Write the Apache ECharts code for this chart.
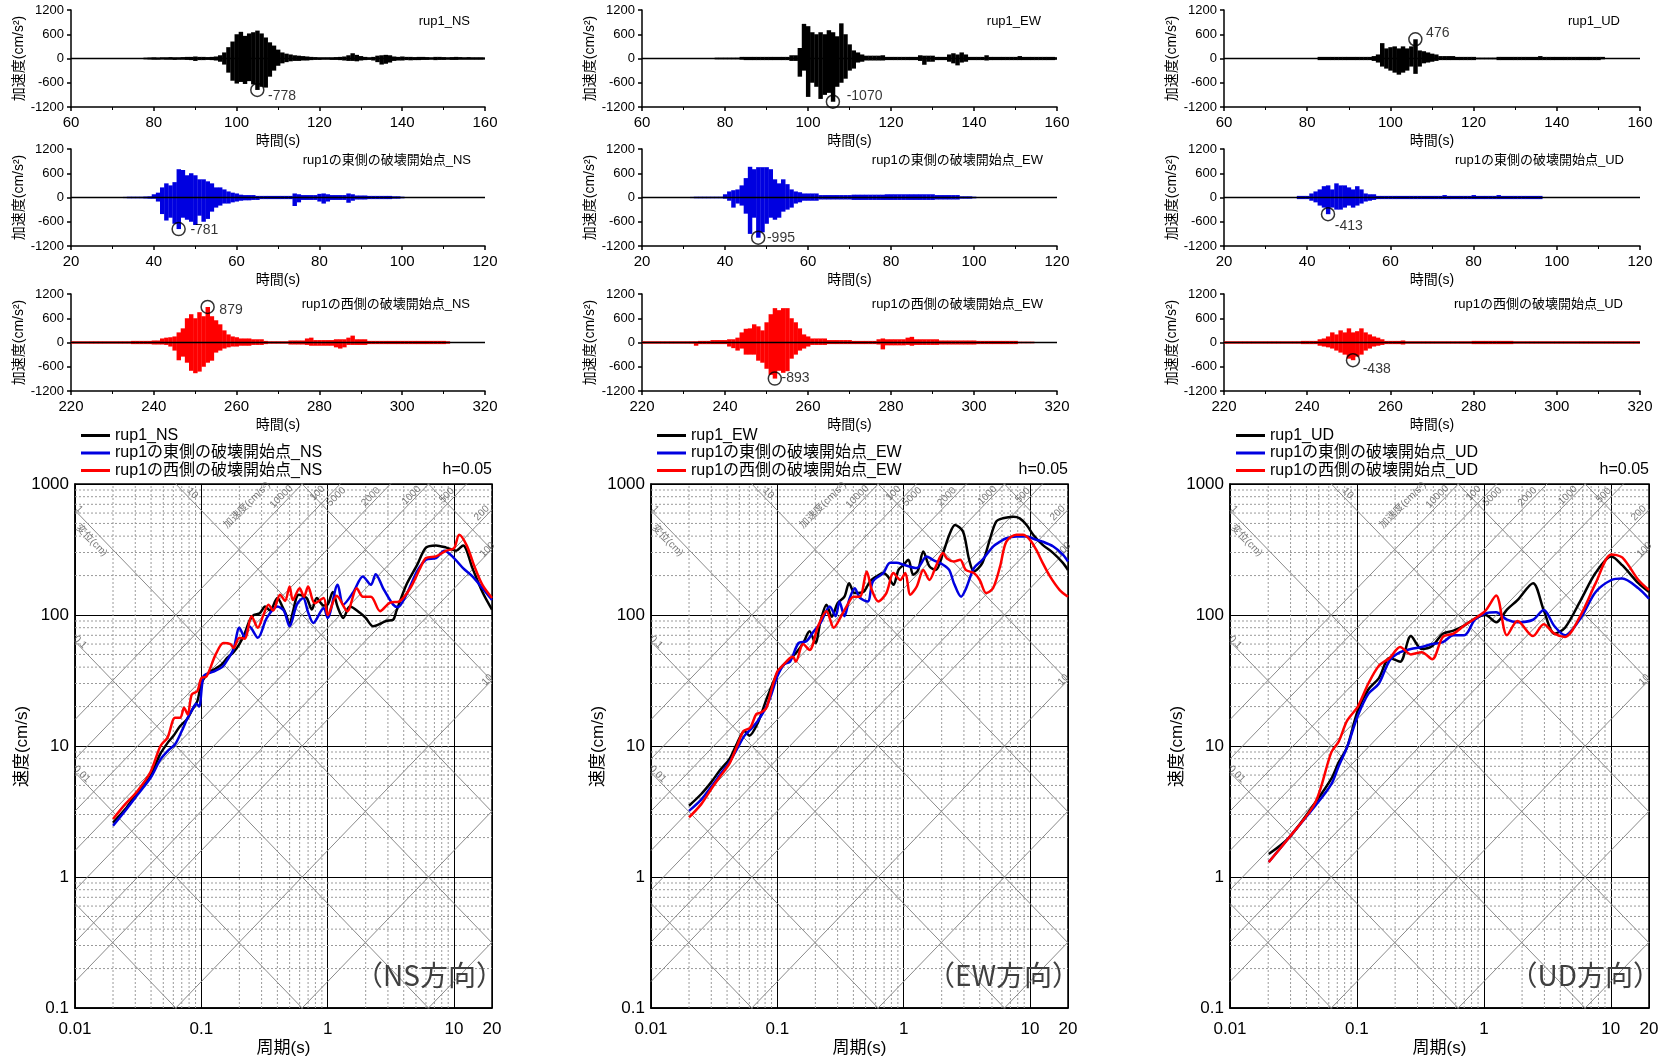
<!DOCTYPE html>
<html><head><meta charset="utf-8">
<script src="https://cdn.jsdelivr.net/npm/echarts@6.0.0/dist/echarts.min.js"></script>
<style>html,body{margin:0;padding:0;background:#fff}#c{width:1663px;height:1058px}</style>
</head><body><div id="c"></div><script>
// ---------------- DATA: acceleration waveforms (envelope per second) ----------------
const timeRanges = [[60,160],[20,120],[220,320]];
const accelMin = -1200, accelMax = 1200, accelStep = 600, timeStep = 20;

const nsRup1Name = 'rup1_NS';
const nsRup1Start = 78;
const nsRup1Up = [20,25,30,25,30,30,35,30,30,35, 40,40,50,40,40,35,40,50,80,150, 280,420,600,660,560,620,650,690,620,520, 400,320,220,150,120,100,80,70,60,50, 40,35,30,30,30,30,35,40,50,80, 130,90,60,40,30,40,70,80,90,80, 50,40,50,40,40,35,40,40,35,30, 40,40,35,30,35,40,35,30,35,30, 30,30,25];
const nsRup1Lo = [-20,-25,-30,-30,-25,-30,-30,-35,-30,-30, -35,-40,-60,-40,-40,-35,-40,-50,-80,-150, -350,-550,-620,-580,-630,-560,-640,-778,-700,-720, -450,-300,-180,-120,-90,-70,-60,-60,-50,-50, -40,-35,-35,-30,-30,-35,-35,-40,-50,-60, -60,-70,-50,-40,-35,-50,-90,-150,-130,-100, -60,-50,-50,-40,-45,-40,-40,-35,-35,-30, -40,-35,-35,-30,-35,-35,-30,-30,-30,-30, -30,-30,-25];

const nsEastName = 'rup1の東側の破壊開始点_NS';
const nsEastStart = 33;
const nsEastUp = [15,20,20,20,20,25,30,80,120,250, 350,300,380,700,680,550,600,550,450,450, 400,350,250,250,200,150,120,100,70,60, 60,60,40,40,40,40,40,40,40,40, 40,100,80,60,60,60,60,90,100,80, 60,60,60,60,100,80,50,50,50,40, 40,40,40,40,40,30,30,20];
const nsEastLo = [-15,-20,-20,-20,-20,-25,-30,-30,-100,-410, -570,-500,-650,-781,-500,-550,-600,-680,-450,-600, -530,-350,-250,-200,-150,-150,-120,-100,-80,-70, -70,-60,-60,-40,-40,-40,-40,-40,-40,-40, -40,-210,-120,-60,-60,-60,-60,-100,-150,-100, -60,-60,-60,-60,-130,-80,-50,-50,-50,-40, -40,-40,-40,-40,-40,-30,-30,-20];

const nsWestName = 'rup1の西側の破壊開始点_NS';
const nsWestStart = 220;
const nsWestUp = [30,30,30,30,30,30,30,30,30,30, 30,30,30,30,30,40,40,40,40,40, 50,50,100,120,130,150,250,350,600,700, 600,750,650,879,650,550,450,300,200,150, 130,100,100,100,80,80,80,40,30,30, 30,30,30,50,50,50,50,100,120,60, 60,60,60,60,80,80,80,120,170,80, 80,80,40,40,40,40,40,40,40,40, 40,40,40,40,40,40,40,40,40,40, 40,30];
const nsWestLo = [-30,-30,-30,-30,-30,-30,-30,-30,-30,-30, -30,-30,-30,-30,-30,-40,-40,-40,-40,-40, -50,-50,-50,-60,-100,-200,-440,-350,-500,-700, -760,-720,-600,-500,-450,-250,-200,-150,-120,-100, -100,-80,-80,-80,-60,-60,-60,-40,-30,-30, -30,-30,-30,-50,-50,-50,-50,-60,-80,-80, -80,-80,-80,-80,-120,-150,-120,-60,-60,-60, -60,-60,-40,-40,-40,-40,-40,-40,-40,-40, -40,-40,-40,-40,-40,-40,-40,-40,-40,-40, -40,-30];

const ewRup1Name = 'rup1_EW';
const ewRup1Start = 78;
const ewRup1Up = [20,20,20,20,20,20,40,40,40,40, 40,40,40,40,40,40,40,40,80,80, 260,857,800,650,600,650,600,700,650,550, 870,600,350,200,150,100,70,70,70,70, 80,40,40,40,40,40,40,40,40,80, 70,70,70,40,40,40,100,130,100,150, 100,40,40,40,40,80,40,40,40,40, 40,40,40,60,40,40,40,40,40,40, 40,40,30];
const ewRup1Lo = [-20,-20,-20,-20,-20,-20,-30,-40,-40,-40, -40,-40,-40,-40,-40,-40,-40,-40,-60,-60, -450,-300,-950,-600,-700,-1000,-900,-850,-1070,-700, -600,-500,-300,-250,-100,-80,-50,-50,-50,-50, -50,-40,-40,-40,-40,-40,-40,-40,-40,-60, -155,-80,-80,-40,-40,-40,-80,-120,-170,-100, -80,-40,-40,-40,-40,-50,-40,-40,-40,-40, -40,-40,-40,-40,-40,-40,-40,-40,-40,-40, -40,-40,-30];

const ewEastName = 'rup1の東側の破壊開始点_EW';
const ewEastStart = 32;
const ewEastUp = [15,20,20,20,20,20,20,20,80,150, 180,200,300,480,760,700,750,750,750,700, 450,350,450,330,200,150,130,100,100,100, 100,60,60,60,60,60,60,60,60,70, 70,70,70,70,70,70,70,80,80,80, 80,80,80,80,80,80,80,80,80,60, 60,60,60,60,60,30,30,30,20];
const ewEastLo = [-15,-20,-20,-20,-20,-20,-20,-20,-30,-80, -250,-150,-200,-400,-900,-500,-995,-860,-650,-500, -550,-500,-350,-300,-250,-150,-120,-80,-80,-80, -80,-50,-50,-50,-50,-50,-50,-50,-50,-60, -60,-60,-60,-60,-60,-60,-60,-60,-60,-60, -60,-60,-60,-60,-60,-60,-60,-60,-60,-50, -50,-50,-50,-50,-50,-30,-30,-30,-20];

const ewWestName = 'rup1の西側の破壊開始点_EW';
const ewWestStart = 220;
const ewWestUp = [30,30,30,30,30,30,30,30,30,30, 30,30,30,30,40,40,40,60,60,60, 60,80,80,120,250,340,350,450,400,300, 500,700,850,800,850,850,600,500,350,200, 150,100,100,100,100,60,60,60,60,60, 60,40,40,40,40,40,40,80,100,80, 80,80,80,80,120,140,80,80,80,80, 80,80,50,50,50,50,50,50,50,50, 50,40,40,40,40,40,40,40,40,40, 40,20,20,20,20];
const ewWestLo = [-30,-30,-30,-30,-30,-30,-30,-30,-30,-30, -30,-30,-30,-80,-40,-40,-40,-40,-40,-40, -40,-100,-140,-200,-150,-300,-300,-300,-450,-500, -650,-800,-893,-700,-750,-710,-400,-300,-200,-150, -100,-60,-60,-60,-60,-40,-40,-40,-40,-40, -40,-40,-40,-40,-40,-40,-40,-50,-170,-70, -70,-70,-70,-70,-60,-80,-60,-60,-60,-60, -60,-60,-50,-50,-50,-50,-50,-50,-50,-50, -50,-40,-40,-40,-40,-40,-40,-40,-40,-40, -40,-20,-20,-20,-20];

const udRup1Name = 'rup1_UD';
const udRup1Start = 83;
const udRup1Up = [40,40,40,40,40,40,40,40,40,40, 40,40,40,60,100,380,250,280,300,250, 300,250,300,476,200,180,150,120,100,60, 60,60,60,40,40,40,40,40,20,20, 20,20,20,40,40,40,40,40,40,40, 40,40,40,60,40,40,40,40,40,40, 40,40,40,40,40,40,40,40,40];
const udRup1Lo = [-40,-40,-40,-40,-40,-40,-40,-40,-40,-40, -40,-40,-40,-60,-100,-200,-250,-300,-350,-400, -350,-300,-200,-380,-200,-120,-100,-80,-60,-40, -40,-40,-40,-40,-40,-40,-40,-40,-20,-20, -20,-20,-20,-40,-40,-40,-40,-40,-40,-40, -40,-40,-40,-40,-40,-40,-40,-40,-40,-40, -40,-40,-40,-40,-40,-40,-40,-40,-20];

const udEastName = 'rup1の東側の破壊開始点_UD';
const udEastStart = 38;
const udEastUp = [40,40,40,100,150,200,280,300,200,350, 300,300,250,200,280,200,100,80,80,40, 40,40,40,40,40,40,40,40,40,40, 40,40,40,40,40,60,40,40,40,40, 40,40,60,40,40,40,40,40,60,40, 40,40,40,40,40,40,40,40,40];
const udEastLo = [-40,-40,-40,-80,-120,-200,-250,-413,-250,-300, -300,-250,-200,-250,-200,-150,-100,-80,-60,-40, -40,-40,-40,-40,-40,-40,-40,-40,-40,-40, -40,-40,-40,-40,-40,-40,-40,-40,-40,-40, -40,-40,-40,-40,-40,-40,-40,-40,-40,-40, -40,-40,-40,-40,-40,-40,-40,-40,-40];

const udWestName = 'rup1の西側の破壊開始点_UD';
const udWestStart = 220;
const udWestUp = [30,30,30,30,30,30,30,30,30,30, 30,30,30,30,30,30,30,30,30,40, 40,40,40,80,100,150,250,200,300,250, 350,250,280,350,250,200,150,120,80,40, 40,40,40,50,30,30,30,30,30,30, 30,30,30,30,30,30,30,30,30,30, 40,40,40,40,40,40,40,40,40,40, 30,30,30,30,30,30,30,30,30,30, 30,30,30,30,30,30,30,30,30,30, 30,30,30,30,30,30,30,30,30,30, 30];
const udWestLo = [-30,-30,-30,-30,-30,-30,-30,-30,-30,-30, -30,-30,-30,-30,-30,-30,-30,-30,-30,-40, -40,-40,-40,-80,-100,-120,-150,-200,-250,-300, -400,-438,-350,-300,-200,-150,-100,-80,-60,-40, -40,-40,-40,-50,-30,-30,-30,-30,-30,-30, -30,-30,-30,-30,-30,-30,-30,-30,-30,-30, -40,-40,-40,-40,-40,-40,-40,-40,-40,-40, -30,-30,-30,-30,-30,-30,-30,-30,-30,-30, -30,-30,-30,-30,-30,-30,-30,-30,-30,-30, -30,-30,-30,-30,-30,-30,-30,-30,-30,-30, -30];

// peak annotations (time, value): NS rup1/east/west, EW..., UD...
const peakTimes = [105, 46, 253, 106, 48, 252, 106, 45, 251];
const peakValues = [-778, -781, 879, -1070, -995, -893, 476, -413, -438];

// ---------------- DATA: pseudo-velocity response spectra [period(s), velocity(cm/s)] ----------------
const specNsRup1 = [[0.02,2.6],[0.025,3.3],[0.03,4.2],[0.035,5.0],[0.04,6.0],[0.047,8.6],[0.055,10.8],[0.06,11.9],[0.068,14.2],[0.077,16],[0.085,19],[0.093,22],[0.1,30],[0.11,35],[0.118,37],[0.13,39],[0.145,42],[0.16,47],[0.18,52],[0.2,60],[0.22,72],[0.24,90],[0.26,100],[0.29,103],[0.32,116],[0.35,108],[0.4,135],[0.44,115],[0.47,100],[0.5,84],[0.53,105],[0.59,143],[0.68,135],[0.75,110],[0.82,135],[0.93,118],[1.0,120],[1.1,150],[1.2,115],[1.33,95],[1.5,116],[1.8,104],[2.0,95],[2.3,82],[2.9,90],[3.3,92],[3.5,107],[4.2,170],[5.1,240],[6.0,327],[7.2,340],[8.7,327],[10.4,310],[11.8,340],[14,228],[16.8,150],[20,110]];
const specNsEast = [[0.02,2.46],[0.025,3.2],[0.031,4.2],[0.04,5.8],[0.0475,7.9],[0.055,9.3],[0.062,10.3],[0.07,13],[0.077,16],[0.085,19],[0.091,21],[0.096,20],[0.104,34],[0.115,36],[0.125,37],[0.146,40],[0.16,45],[0.18,55],[0.2,80],[0.22,68],[0.24,82],[0.28,67],[0.33,95],[0.4,116],[0.45,108],[0.5,82],[0.57,120],[0.64,135],[0.7,105],[0.77,87],[0.93,113],[1.0,95],[1.2,170],[1.33,120],[1.6,150],[1.9,197],[2.2,170],[2.4,205],[2.75,160],[3.3,120],[3.6,115],[4.2,143],[5.1,215],[6.0,264],[7.2,272],[8.4,310],[10,272],[11.8,228],[14,197],[16.8,160],[20,130]];
const specNsWest = [[0.02,2.77],[0.025,3.6],[0.031,4.5],[0.0395,6.3],[0.0475,10],[0.054,11.6],[0.062,16.4],[0.068,16.4],[0.073,19.6],[0.078,17.4],[0.084,24.7],[0.093,26.2],[0.1,33],[0.11,34],[0.13,50],[0.15,61],[0.17,60],[0.18,56],[0.2,67],[0.22,66],[0.25,98],[0.28,80],[0.31,100],[0.34,120],[0.37,108],[0.42,143],[0.46,128],[0.5,165],[0.53,130],[0.6,160],[0.65,138],[0.7,165],[0.79,123],[0.93,135],[1.0,100],[1.18,140],[1.43,107],[1.7,160],[1.9,138],[2.2,138],[2.6,107],[3.1,124],[3.7,127],[4.5,160],[5.4,228],[6.0,272],[7.2,280],[8.7,310],[10,323],[11,410],[12.6,340],[14.7,228],[16.8,170],[20,135]];

const specEwRup1 = [[0.02,3.5],[0.025,4.3],[0.03,5.3],[0.035,6.5],[0.042,8],[0.048,10.5],[0.055,13],[0.06,12],[0.07,15],[0.082,22.7],[0.1,36],[0.11,41],[0.126,46],[0.14,51],[0.16,61],[0.18,75],[0.2,61],[0.22,90],[0.245,120],[0.27,97],[0.3,123],[0.34,138],[0.37,175],[0.41,147],[0.48,150],[0.54,180],[0.61,197],[0.69,209],[0.75,197],[0.83,170],[0.91,221],[1.0,242],[1.09,264],[1.19,203],[1.3,220],[1.43,305],[1.6,235],[1.8,221],[2.05,297],[2.3,410],[2.55,487],[2.95,434],[3.3,264],[3.6,215],[4.2,250],[4.8,375],[5.4,516],[6.1,547],[7.4,563],[8.3,547],[9.4,487],[10.6,410],[12.6,343],[15.3,297],[18.3,249],[20,220]];
const specEwEast = [[0.02,3.2],[0.025,3.9],[0.03,4.9],[0.035,6],[0.042,7.6],[0.048,9.5],[0.055,12],[0.062,13.5],[0.07,15.5],[0.082,20],[0.09,25],[0.1,34],[0.113,42],[0.126,44],[0.147,61],[0.17,63],[0.19,73],[0.22,87],[0.26,116],[0.29,98],[0.31,127],[0.34,98],[0.37,130],[0.41,160],[0.45,135],[0.52,127],[0.57,180],[0.69,209],[0.78,250],[0.88,250],[1.0,242],[1.27,228],[1.52,280],[1.7,264],[2.05,242],[2.3,220],[2.5,175],[2.85,138],[3.1,157],[3.6,228],[4.2,264],[5.1,333],[5.8,363],[6.5,385],[7.8,397],[9.4,397],[11.2,375],[12.6,363],[15.3,333],[18.3,288],[20,256]];
const specEwWest = [[0.02,2.85],[0.025,3.6],[0.03,4.7],[0.035,5.8],[0.042,7.4],[0.048,10],[0.054,13],[0.061,13.8],[0.068,17.5],[0.074,18],[0.082,19.6],[0.09,27],[0.1,37],[0.11,41],[0.126,47],[0.133,48],[0.14,44],[0.16,60],[0.18,54],[0.21,82],[0.245,107],[0.28,80],[0.32,98],[0.36,120],[0.4,138],[0.45,138],[0.51,215],[0.56,155],[0.63,127],[0.73,147],[0.83,209],[0.94,185],[1.03,209],[1.13,143],[1.27,165],[1.43,221],[1.6,185],[1.8,235],[2.05,297],[2.2,270],[2.5,256],[2.8,264],[3.1,221],[3.6,209],[4.0,185],[4.5,147],[5.1,160],[5.8,235],[6.5,363],[7.8,410],[8.8,410],[10,375],[11.2,315],[12.6,250],[14.4,197],[17.2,155],[20,138]];

const specUdRup1 = [[0.0202,1.5],[0.0292,2.0],[0.047,3.7],[0.0627,5.6],[0.0718,7.5],[0.0837,9.8],[0.1016,18.7],[0.123,27],[0.149,33],[0.181,47],[0.219,44],[0.266,69],[0.323,55],[0.392,58],[0.475,72],[0.576,76],[0.7,83],[0.85,94],[1.03,100],[1.25,88],[1.52,110],[1.84,130],[2.44,175],[2.96,109],[3.6,72],[4.36,80],[5.8,130],[7.6,210],[10.1,280],[12.3,240],[16.5,175],[20,150]];
const specUdEast = [[0.0202,1.3],[0.0292,2.0],[0.047,3.5],[0.0627,5.1],[0.0718,7],[0.0837,9.8],[0.1016,17],[0.123,25],[0.149,30],[0.181,45],[0.219,52],[0.266,55],[0.323,57],[0.392,60],[0.475,62],[0.576,70],[0.7,70],[0.85,92],[1.03,103],[1.25,105],[1.52,92],[1.84,88],[2.44,92],[2.96,109],[3.6,82],[4.36,70],[5.8,95],[7.6,150],[10.1,185],[12.3,190],[16.5,160],[20,133]];
const specUdWest = [[0.0202,1.3],[0.0292,2.0],[0.047,3.7],[0.0627,8.9],[0.0718,10.8],[0.0837,15.6],[0.1016,20],[0.123,30],[0.149,41],[0.181,47],[0.219,57],[0.266,50],[0.323,52],[0.392,46],[0.475,68],[0.576,72],[0.7,83],[0.85,94],[1.03,108],[1.25,141],[1.52,70],[1.84,90],[2.44,69],[2.96,85],[3.6,72],[4.36,68],[5.8,100],[7.6,175],[10.1,290],[12.3,275],[16.5,185],[20,155]];

const specNames = [[nsRup1Name,nsEastName,nsWestName],[ewRup1Name,ewEastName,ewWestName],[udRup1Name,udEastName,udWestName]];
const specData = [[specNsRup1,specNsEast,specNsWest],[specEwRup1,specEwEast,specEwWest],[specUdRup1,specUdEast,specUdWest]];
const dirLabels = ['（NS方向）','（EW方向）','（UD方向）'];
const dampingLabel = 'h=0.05';
const waveYName = '加速度(cm/s²)', waveXName = '時間(s)';
const specYName = '速度(cm/s)', specXName = '周期(s)';
const periodMin = 0.01, periodMax = 20, velMin = 0.1, velMax = 1000;
const dispLines = [0.001,0.01,0.1,1,10,100,1000];          // cm
const accLines = [0.1,1,10,100,200,500,1000,2000,5000,10000]; // cm/s2
const minorMult = [2,3,4,5,6,7,8,9];
const periodDecades = [0.01,0.1,1,10];
const velDecades = [0.1,1,10,100];
const diagLabels = [
  ['10',0.085,850,-45],['1',0.0108,640,-45],['変位(cm)',0.0135,370,-45],['0.1',0.011,62,-45],['0.01',0.0113,6.1,-45],
  ['加速度(cm/s²)',0.23,690,45],['10000',0.43,800,45],['100',0.83,850,45],['5000',1.17,800,45],['2000',2.2,800,45],
  ['1000',4.6,820,45],['500',8.8,820,45],['200',16.6,600,45],['100',18.4,315,45],['10',18.4,32,45]
];

// ---------------- STYLE / LAYOUT ----------------
const FONT = "'Liberation Sans', Arial, 'Noto Sans CJK JP', sans-serif";
const colors = ['#000000', '#0000e0', '#ff0000'];
const waveCols = [
  [[nsRup1Name,nsRup1Start,nsRup1Up,nsRup1Lo],[nsEastName,nsEastStart,nsEastUp,nsEastLo],[nsWestName,nsWestStart,nsWestUp,nsWestLo]],
  [[ewRup1Name,ewRup1Start,ewRup1Up,ewRup1Lo],[ewEastName,ewEastStart,ewEastUp,ewEastLo],[ewWestName,ewWestStart,ewWestUp,ewWestLo]],
  [[udRup1Name,udRup1Start,udRup1Up,udRup1Lo],[udEastName,udEastStart,udEastUp,udEastLo],[udWestName,udWestStart,udWestUp,udWestLo]]
];
const waveLeft = [71, 642, 1224], waveWidth = [414, 415, 416];
const waveTop = [10, 149, 294], waveHeight = 97;
const waveTitleRightX = [[470,471,470],[1041,1043,1043],[1620,1624,1623]];
const waveTitleY = [23, 162, 306];
const peakLabelOffset = [[10,6],[11,1],[11,3],[13,-6],[8,0],[6,0],[10,-6],[6,12],[9,9]];
const specLeft = [75, 651, 1230], specWidth = [417, 417, 419], specTop = 484, specHeight = 525;
const W = 1663;
const barFrac = 1.0; // drawn width (s) of each one-second envelope bar

function envelopeRows(t0, up, lo) {
  return up.map((u, i) => [t0 + i, lo[i], u]);
}
const fmtNum = v => String(+Number(v).toPrecision(6));
function vText(text, x, y, size) {
  return {type:'text', x:x, y:y, rotation:Math.PI/2, silent:true, z:10,
    style:{text:text, x:0, y:0, align:'center', verticalAlign:'middle', fontSize:size, fill:'#000', fontFamily:FONT}};
}

const option = {animation:false, backgroundColor:'#fff', grid:[], xAxis:[], yAxis:[], series:[], title:[], legend:[], graphic:[]};

// waveform panels
for (let c = 0; c < 3; c++) {
  for (let r = 0; r < 3; r++) {
    const gi = option.grid.length;
    const w = waveCols[c][r];
    const col = colors[r];
    option.grid.push({left: waveLeft[c], top: waveTop[r], width: waveWidth[c], height: waveHeight});
    option.xAxis.push({type:'value', gridIndex:gi, min:timeRanges[r][0], max:timeRanges[r][1], interval:timeStep,
      axisLine:{onZero:false, lineStyle:{color:'#000', width:1.5}}, axisTick:{length:4, lineStyle:{color:'#000', width:1.5}},
      minorTick:{show:true, splitNumber:2, length:3, lineStyle:{color:'#000', width:1}},
      splitLine:{show:false}, axisLabel:{fontSize:15, color:'#000', fontFamily:FONT, margin:8, formatter: v => String(v)},
      name:waveXName, nameLocation:'middle', nameGap:27, nameTextStyle:{fontSize:14, color:'#000', fontFamily:FONT}});
    option.yAxis.push({type:'value', gridIndex:gi, min:accelMin, max:accelMax, interval:accelStep,
      axisLine:{show:true, onZero:false, lineStyle:{color:'#000', width:1.5}}, axisTick:{show:true, length:4, lineStyle:{color:'#000', width:1.5}},
      splitLine:{show:false}, axisLabel:{fontSize:13, color:'#000', fontFamily:FONT, margin:7, formatter: v => String(v)}});
    option.graphic.push(vText(waveYName, waveLeft[c] - 52, waveTop[r] + waveHeight/2, 14));
    option.series.push({type:'custom', xAxisIndex:gi, yAxisIndex:gi, data:envelopeRows(w[1], w[2], w[3]), silent:true, clip:true, z:2,
      encode:{x:0, y:[1,2]},
      renderItem: (params, api) => {
        const t = api.value(0);
        const p1 = api.coord([t - barFrac/2, api.value(2)]);
        const p2 = api.coord([t + barFrac/2, api.value(1)]);
        return {type:'rect', shape:{x:p1[0], y:p1[1], width:Math.max(1, p2[0]-p1[0]) + 0.3, height:p2[1]-p1[1]}, style:{fill:col}};
      }});
    option.series.push({type:'line', xAxisIndex:gi, yAxisIndex:gi, data:[[timeRanges[r][0],0],[timeRanges[r][1],0]], symbol:'none', silent:true,
      lineStyle:{color:'#000', width:1.6}, z:3});
    const pi = c*3 + r;
    option.series.push({type:'scatter', xAxisIndex:gi, yAxisIndex:gi, data:[[peakTimes[pi], peakValues[pi]]], symbol:'circle', symbolSize:13, silent:true,
      itemStyle:{color:'rgba(0,0,0,0)', borderColor:'#000', borderWidth:1.5}, z:4,
      label:{show:true, position:'right', distance:0, offset:[peakLabelOffset[pi][0]-6.5, peakLabelOffset[pi][1]],
        formatter:String(peakValues[pi]), fontSize:14, color:'#000', fontFamily:FONT}});
    option.title.push({text:w[0], right: W - waveTitleRightX[c][r], top: waveTitleY[r]-8, padding:0,
      textStyle:{fontSize:13, fontWeight:'normal', color:'#000', fontFamily:FONT}});
  }
}

// spectra panels
const gridLineStyleMinor = {color:'#9a9a9a', width:1, type:[2,2]};
const diagStyle = {color:'#8a8a8a', width:1};
for (let c = 0; c < 3; c++) {
  const gi = option.grid.length;
  option.grid.push({left: specLeft[c], top: specTop, width: specWidth[c], height: specHeight, show:true, borderColor:'#000', borderWidth:1.5, backgroundColor:'#fff'});
  option.xAxis.push({type:'log', logBase:10, gridIndex:gi, min:periodMin, max:periodMax,
    axisLine:{show:true, onZero:false, lineStyle:{color:'#000', width:1.5}}, axisTick:{show:false},
    splitLine:{show:true, lineStyle:{color:'#000', width:1}},
    axisLabel:{fontSize:17, color:'#000', fontFamily:FONT, margin:13, formatter:fmtNum},
    name:specXName, nameLocation:'middle', nameGap:32, nameTextStyle:{fontSize:17, color:'#000', fontFamily:FONT}});
  option.yAxis.push({type:'log', logBase:10, gridIndex:gi, min:velMin, max:velMax,
    axisLine:{show:true, onZero:false, lineStyle:{color:'#000', width:1.5}}, axisTick:{show:false},
    splitLine:{show:true, lineStyle:{color:'#000', width:1}},
    axisLabel:{fontSize:17, color:'#000', fontFamily:FONT, margin:6, formatter:fmtNum}});
  option.graphic.push(vText(specYName, specLeft[c] - 53, specTop + specHeight/2, 17));
  const base = {type:'line', xAxisIndex:gi, yAxisIndex:gi, symbol:'none', silent:true, z:1, clip:true};
  periodDecades.forEach(d => minorMult.forEach(m => {
    const T = d*m; if (T < periodMax) option.series.push(Object.assign({}, base, {data:[[T,velMin],[T,velMax]], lineStyle:gridLineStyleMinor}));
  }));
  velDecades.forEach(d => minorMult.forEach(m => {
    const v = d*m; option.series.push(Object.assign({}, base, {data:[[periodMin,v],[periodMax,v]], lineStyle:gridLineStyleMinor}));
  }));
  dispLines.forEach(D => option.series.push(Object.assign({}, base,
    {data:[[periodMin, 2*Math.PI*D/periodMin],[periodMax, 2*Math.PI*D/periodMax]], lineStyle:diagStyle})));
  accLines.forEach(A => option.series.push(Object.assign({}, base,
    {data:[[periodMin, A*periodMin/(2*Math.PI)],[periodMax, A*periodMax/(2*Math.PI)]], lineStyle:diagStyle})));
  option.series.push({type:'scatter', xAxisIndex:gi, yAxisIndex:gi, symbolSize:0, silent:true, z:2,
    data: diagLabels.map(l => ({value:[l[1], l[2]], label:{show:true, position:'inside', formatter:l[0], rotate:l[3],
      fontSize:10, color:'#555', fontFamily:FONT}}))});
  for (let k = 0; k < 3; k++) {
    option.series.push({type:'line', name:specNames[c][k], xAxisIndex:gi, yAxisIndex:gi, data:specData[c][k], symbol:'none',
      smooth:0.3, color:colors[k], lineStyle:{color:colors[k], width:2.5}, z:5, clip:true});
  }
  option.legend.push({left: specLeft[c] + 1, top: 422, orient:'vertical', itemWidth:29, itemHeight:3, itemGap:0.5, icon:'rect',
    selectedMode:false, data:specNames[c], textStyle:{fontSize:16, lineHeight:17, color:'#000', fontFamily:FONT}});
  option.title.push({text:dampingLabel, right: W - (specLeft[c] + specWidth[c]), top: 462, padding:0,
    textStyle:{fontSize:16, fontWeight:'normal', color:'#000', fontFamily:FONT}});
  option.title.push({text:dirLabels[c], right: W - (specLeft[c] + specWidth[c]) - 12, top: 961, padding:0,
    textStyle:{fontSize:28, fontWeight:'normal', color:'#404040', fontFamily:"'Noto Sans CJK JP', sans-serif"}});
}

const chart = echarts.init(document.getElementById('c'), null, {renderer:'canvas'});
chart.setOption(option);
</script></body></html>
